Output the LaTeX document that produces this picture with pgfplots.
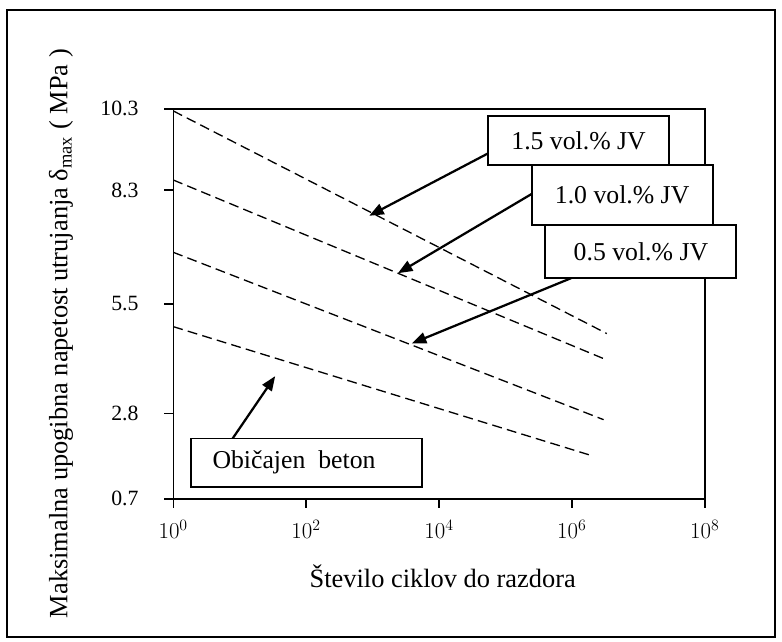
\documentclass[border=0pt]{standalone}
\usepackage{fontspec}
\setmainfont{Liberation Serif}
\usepackage{pgfplots}
\pgfplotsset{compat=1.18}
\usetikzlibrary{arrows.meta}

% fatigue lines: cycles to failure vs. max flexural fatigue stress
\pgfplotstableread{
N        s
1        10.25
3.35e6   4.77
}\fibreA
\pgfplotstableread{
N        s
1        8.55
3.24e6   4.13
}\fibreB
\pgfplotstableread{
N        s
1        6.77
3.0e6    2.65
}\fibreC
\pgfplotstableread{
N        s
1        4.94
1.94e6   1.77
}\plain

\begin{document}
\begin{tikzpicture}[x=0.75pt,y=0.75pt]
\useasboundingbox (0,0) rectangle (790,648);
\begin{axis}[
  at={(131.25pt,108pt)}, anchor=south west, scale only axis,
  width=402.75pt, height=295.5pt,
  xmode=log, xmin=1, xmax=1e8, ymin=0.7, ymax=10.3,
  xtick={1,1e2,1e4,1e6,1e8}, xminorticks=false,
  ytick={0.7,2.8,5.5,8.3,10.3},
  yticklabels={0.7,2.8,5.5,8.3,10.3},
  tick align=outside, xtick pos=bottom, ytick pos=left,
  major tick length=6.75pt,
  axis line style={line width=1.1pt},
  every tick/.style={black, line width=1.1pt},
  yticklabel style={font=\fontsize{16.5}{18}\selectfont, xshift=-16pt},
  xticklabel style={font=\fontsize{16.5}{18}\selectfont, yshift=-6pt},
  xlabel={Število ciklov do razdora},
  ylabel={Maksimalna upogibna napetost utrujanja δ\textsubscript{max} ( MPa )},
  label style={font=\fontsize{20}{22}\selectfont},
  xlabel style={at={(axis description cs:0.507,-0.226)}, anchor=base},
  ylabel style={at={(axis description cs:-0.199,0.424)}, anchor=base},
]
\addplot[black, line width=1pt, dash pattern=on 7.5pt off 4pt] table[x=N,y=s] {\fibreA};
\addplot[black, line width=1pt, dash pattern=on 7.5pt off 4pt] table[x=N,y=s] {\fibreB};
\addplot[black, line width=1pt, dash pattern=on 7.5pt off 4pt] table[x=N,y=s] {\fibreC};
\addplot[black, line width=1pt, dash pattern=on 7.5pt off 4pt] table[x=N,y=s] {\plain};
\end{axis}

% outer frame
\draw[line width=1.5pt] (7,4) rectangle (783,638);

% callout arrows
\begin{scope}[line width=1.7pt, -{Triangle[length=11pt,width=8.5pt]}]
  \draw (493,493) -- (373,430);
  \draw (537,452) -- (402,372);
  \draw (577,367) -- (416,301);
  \draw (235,205) -- (278,268);
\end{scope}

% callout boxes
\begin{scope}[line width=1.5pt, font=\fontsize{19.5}{22}\selectfont]
  \filldraw[fill=white] (493,531) rectangle (676,481);
  \node at (584.5,506) {1.5 vol.\% JV};
  \filldraw[fill=white] (537,481) rectangle (720,421);
  \node at (628.5,451) {1.0 vol.\% JV};
  \filldraw[fill=white] (551,421) rectangle (744,367);
  \node at (647.5,394) {0.5 vol.\% JV};
  \filldraw[fill=white] (193,205) rectangle (426,156);
  \node at (297,181) {Običajen\ \ beton};
\end{scope}
\end{tikzpicture}
\end{document}
